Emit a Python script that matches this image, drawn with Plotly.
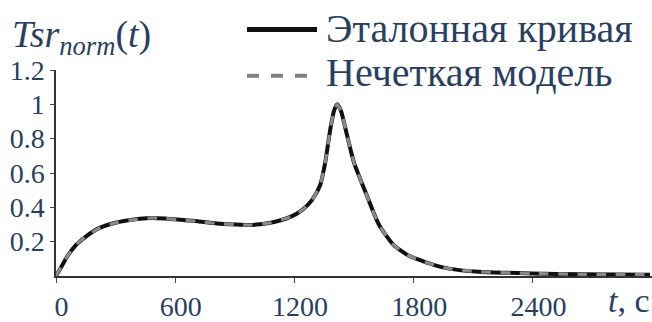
import plotly.graph_objects as go

# ---- data ----
t_sec = [0, 25, 60, 100, 150, 220, 300, 400, 470, 550, 650, 720, 810, 900, 978,
         1079, 1180, 1240, 1290, 1330, 1355, 1380, 1400, 1416, 1435, 1465, 1500,
         1559, 1625, 1700, 1776, 1826, 1900, 1977, 2127, 2394, 2645, 2990]
ref_vals = [0.0, 0.05, 0.12, 0.18, 0.23, 0.28, 0.31, 0.33, 0.338, 0.335, 0.325, 0.318,
            0.306, 0.300, 0.297, 0.31, 0.344, 0.385, 0.445, 0.53, 0.66, 0.85, 0.965,
            1.0, 0.96, 0.82, 0.66, 0.485, 0.30, 0.18, 0.118, 0.095, 0.065, 0.043,
            0.025, 0.015, 0.010, 0.008]
model_vals = list(ref_vals)

x_ticks = [0, 600, 1200, 1800, 2400]
x_ticktext = ["\u2009\u2009" + s for s in ["0", "600", "1200", "1800", "2400"]]
y_ticks = [0.2, 0.4, 0.6, 0.8, 1.0, 1.2]
y_ticktext = ["0.2", "0.4", "0.6", "0.8", "1", "1.2"]

series_names = ["Эталонная кривая", "Нечеткая модель"]
y_title = "<i>Tsr</i><sub><i>norm</i></sub>(<i>t</i>)"
x_title = "<i>t</i>, с"

# ---- geometry ----
W, H = 652, 322
L, R, T, B = 56, 0, 70, 39
X_MAX, Y_MAX = 3000, 1.2
FONT = "Liberation Serif"

def px_x(px):
    return (px - L) / (W - L - R)

def px_y(py):
    return (H - B - py) / (H - T - B)

fig = go.Figure()
fig.add_trace(go.Scatter(x=t_sec, y=ref_vals, mode="lines", name=series_names[0],
                         line=dict(color="#111111", width=4, shape="spline", smoothing=0.6),
                         showlegend=False))
fig.add_trace(go.Scatter(x=t_sec, y=model_vals, mode="lines", name=series_names[1],
                         line=dict(color="#8a8a8a", width=3.2, dash="dash",
                                   shape="spline", smoothing=0.6),
                         showlegend=False))

fig.update_layout(
    width=W, height=H,
    margin=dict(l=L, r=R, t=T, b=B),
    plot_bgcolor="white",
    font=dict(family=FONT),
    xaxis=dict(range=[0, X_MAX], tickvals=x_ticks, ticktext=x_ticktext,
               ticks="outside", ticklen=5,
               showline=True, linecolor="#333", linewidth=1.5,
               showgrid=False, zeroline=False,
               tickfont=dict(size=28, family=FONT)),
    yaxis=dict(range=[0, Y_MAX], tickvals=y_ticks, ticktext=y_ticktext,
               ticks="outside", ticklen=4,
               showline=True, linecolor="#333", linewidth=1.5,
               showgrid=False, zeroline=False,
               tickfont=dict(size=28, family=FONT)),
)

# manual legend (long samples as in the reference)
fig.add_shape(type="line", xref="paper", yref="paper",
              x0=px_x(247), x1=px_x(317), y0=px_y(28), y1=px_y(28),
              line=dict(color="#111111", width=5))
fig.add_shape(type="line", xref="paper", yref="paper",
              x0=px_x(247), x1=px_x(317), y0=px_y(76), y1=px_y(76),
              line=dict(color="#808080", width=4, dash="dash"))
fig.add_annotation(text=series_names[0], xref="paper", yref="paper",
                   x=px_x(324), y=px_y(27), xanchor="left", yanchor="middle",
                   showarrow=False, font=dict(size=40, family=FONT))
fig.add_annotation(text=series_names[1], xref="paper", yref="paper",
                   x=px_x(324), y=px_y(73), xanchor="left", yanchor="middle",
                   showarrow=False, font=dict(size=40, family=FONT))

# axis titles
fig.add_annotation(text=y_title, xref="paper", yref="paper",
                   x=px_x(10), y=px_y(36), xanchor="left", yanchor="middle",
                   showarrow=False, font=dict(size=38, family=FONT))
fig.add_annotation(text=x_title, xref="paper", yref="paper",
                   x=px_x(652), y=px_y(308), xanchor="right", yanchor="middle",
                   showarrow=False, font=dict(size=34, family=FONT))

fig.write_html("out.html")
